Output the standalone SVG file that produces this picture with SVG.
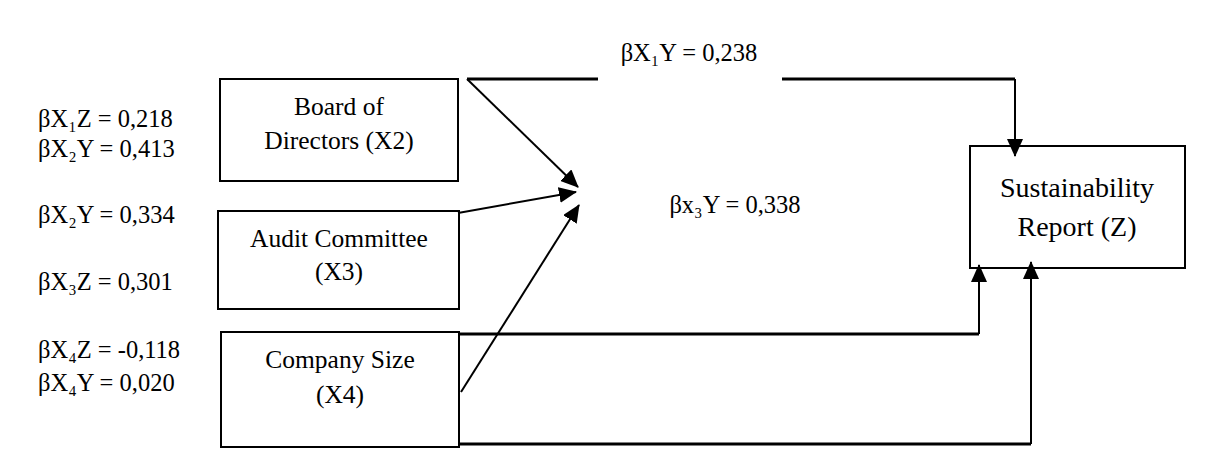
<svg xmlns="http://www.w3.org/2000/svg" width="1214" height="472" viewBox="0 0 1214 472">
<style>
text{font-family:"Liberation Serif","DejaVu Serif",serif;font-size:24.5px;fill:#000}
.c{text-anchor:middle}
.n{font-size:25.5px}
.z{font-size:28px}
.box{fill:#fff;stroke:#000;stroke-width:2}
.ln{fill:none;stroke:#000;stroke-width:2}
.tk{fill:none;stroke:#000;stroke-width:3}
</style>
<defs>
<marker id="ah" viewBox="0 0 18 16" refX="17" refY="8" markerWidth="18" markerHeight="16" markerUnits="userSpaceOnUse" orient="auto">
<path d="M0,0 L18,8 L0,16 Z" fill="#000"/>
</marker>
</defs>
<rect width="1214" height="472" fill="#fff"/>
<g id="labels">
<text x="38" y="127">βX₁Z = 0,218</text>
<text x="38" y="157">βX₂Y = 0,413</text>
<text x="38" y="223">βX₂Y = 0,334</text>
<text x="38" y="290">βX₃Z = 0,301</text>
<text x="38" y="358">βX₄Z = -0,118</text>
<text x="38" y="391">βX₄Y = 0,020</text>
<text x="689" y="61" class="c">βX₁Y = 0,238</text>
<text x="735" y="213" class="c">βx₃Y = 0,338</text>
</g>
<g id="board">
<rect class="box" x="220" y="79" width="238" height="102"/>
<text x="339" y="115" class="c n">Board of</text>
<text x="339" y="149" class="c n">Directors (X2)</text>
</g>
<g id="audit">
<rect class="box" x="218" y="211" width="241" height="98"/>
<text x="339" y="247" class="c n">Audit Committee</text>
<text x="339" y="280" class="c n">(X3)</text>
</g>
<g id="size">
<rect class="box" x="221" y="332" width="238" height="115"/>
<text x="340" y="368" class="c n">Company Size</text>
<text x="340" y="403" class="c n">(X4)</text>
</g>
<g id="report">
<rect class="box" x="970" y="146" width="215" height="122"/>
<text x="1077" y="197" class="c z">Sustainability</text>
<text x="1077" y="236" class="c z">Report (Z)</text>
</g>
<g id="connectors">
<path class="tk" d="M467,79 H598"/>
<path class="tk" d="M782,79 H1015"/>
<path class="ln" d="M1015,79 V156" marker-end="url(#ah)"/>
<path class="ln" d="M467,79 L578,187" marker-end="url(#ah)"/>
<path class="ln" d="M458,213 L576,192" marker-end="url(#ah)"/>
<path class="ln" d="M461,392 L579,205" marker-end="url(#ah)"/>
<path class="tk" d="M458,334 H979"/>
<path class="ln" d="M979,334 V265" marker-end="url(#ah)"/>
<path class="tk" d="M459,444 H1031"/>
<path class="ln" d="M1031,444 V262" marker-end="url(#ah)"/>
</g>
</svg>
